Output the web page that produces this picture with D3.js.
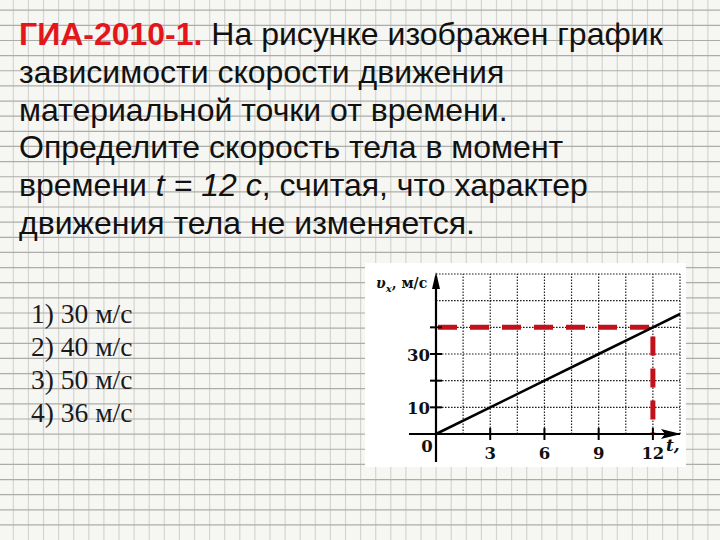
<!DOCTYPE html>
<html><head><meta charset="utf-8">
<script src="https://cdn.jsdelivr.net/npm/d3@7/dist/d3.min.js"></script>
<style>html,body{margin:0;padding:0;background:#f6f6f3;}svg{display:block;}</style>
</head><body>
<script>
// ---- data ----
const times = [0, 3, 6, 9, 12, 13.5];          // t, c
const speeds = [0, 10, 20, 30, 40, 45];        // v_x, м/с
const xTicks = [3, 6, 9, 12];
const yTickMarks = [10, 20, 30, 40];
const yTickLabels = [10, 30];
const gridT = [1.5, 3, 4.5, 6, 7.5, 9, 10.5, 12, 13.5];
const gridV = [10, 20, 30, 40, 50, 60];
const answerT = 12;
const answerV = 40;
const answers = ["1) 30 м/с", "2) 40 м/с", "3) 50 м/с", "4) 36 м/с"];
const questionLines = [
  [{t:"ГИА-2010-1.", red:true}, {t:" На рисунке изображен график"}],
  [{t:"зависимости скорости движения"}],
  [{t:"материальной точки от времени."}],
  [{t:"Определите скорость тела в момент"}],
  [{t:"времени "}, {t:"t = 12 с", it:true}, {t:", считая, что характер"}],
  [{t:"движения тела не изменяется."}]
];

const W = 720, H = 540;
const svg = d3.select("body").append("svg").attr("width", W).attr("height", H);

// grid paper background
svg.append("rect").attr("width", W).attr("height", H).attr("fill", "#f6f6f3");
const bg = svg.append("g");
bg.selectAll("line.v").data(d3.range(13.3, W, 15.1)).join("line")
  .attr("x1", d => d).attr("x2", d => d).attr("y1", 0).attr("y2", H)
  .attr("stroke", "#d4d4d1").attr("stroke-width", 1.2);
bg.selectAll("line.h").data(d3.range(10.2, H, 15.14)).join("line")
  .attr("y1", d => d).attr("y2", d => d).attr("x1", 0).attr("x2", W)
  .attr("stroke", "#acacaa").attr("stroke-width", 1.2);

// question text
const qg = svg.append("g").attr("font-family", "Liberation Sans, Arial, sans-serif").attr("font-size", 32);
questionLines.forEach((parts, i) => {
  const t = qg.append("text").attr("x", 19).attr("y", 45 + i * 37.8).attr("fill", "#111");
  parts.forEach(p => {
    const s = t.append("tspan").text(p.t);
    if (p.red) s.attr("fill", "#e3161c").attr("font-weight", "bold");
    if (p.it) s.attr("font-style", "italic");
  });
});

// answers
svg.append("g").selectAll("text").data(answers).join("text")
  .attr("x", 31).attr("y", (d, i) => 323 + i * 33)
  .attr("font-family", "Liberation Serif, 'Times New Roman', serif")
  .attr("font-size", 27.5).attr("fill", "#1a1a1a").text(d => d);

// chart panel
svg.append("rect").attr("x", 365).attr("y", 263).attr("width", 321).attr("height", 204).attr("fill", "#ffffff");

const x = d3.scaleLinear().domain([0, 13.5]).range([436, 680]);
const y = d3.scaleLinear().domain([0, 60]).range([434, 274]);
const g = svg.append("g");

// dotted grid
g.selectAll("line.gv").data(gridT).join("line")
  .attr("x1", d => x(d)).attr("x2", d => x(d)).attr("y1", y(0)).attr("y2", y(60))
  .attr("stroke", "#222").attr("stroke-width", 1.2).attr("stroke-dasharray", "1.6,1.4");
g.selectAll("line.gh").data(gridV).join("line")
  .attr("y1", d => y(d)).attr("y2", d => y(d)).attr("x1", x(0)).attr("x2", x(13.5))
  .attr("stroke", "#222").attr("stroke-width", 1.2).attr("stroke-dasharray", "1.6,1.4");

// red dashed helper lines
g.append("path")
  .attr("d", d3.line()([[x(0) + 2, y(answerV)], [x(answerT), y(answerV)], [x(answerT), y(0)]]))
  .attr("fill", "none").attr("stroke", "#c3111b").attr("stroke-width", 5)
  .attr("stroke-dasharray", "19,13");

// axes
g.append("line").attr("x1", 409).attr("x2", 680).attr("y1", y(0)).attr("y2", y(0))
  .attr("stroke", "#000").attr("stroke-width", 2.2);
g.append("line").attr("x1", x(0)).attr("x2", x(0)).attr("y1", 462).attr("y2", 276)
  .attr("stroke", "#000").attr("stroke-width", 2.2);
g.append("path").attr("d", `M${x(0)},272 L${x(0)-4},289 L${x(0)+4},289 Z`).attr("fill", "#000");
g.append("path").attr("d", `M681,${y(0)} L661,${y(0)-5} L665,${y(0)} L661,${y(0)+5} Z`).attr("fill", "#000");

// tick marks
g.selectAll("line.tx").data(xTicks).join("line")
  .attr("x1", d => x(d)).attr("x2", d => x(d)).attr("y1", y(0) - 6).attr("y2", y(0) + 6)
  .attr("stroke", "#000").attr("stroke-width", 2);
g.selectAll("line.ty").data(yTickMarks).join("line")
  .attr("y1", d => y(d)).attr("y2", d => y(d)).attr("x1", x(0) - 6).attr("x2", x(0) + 6)
  .attr("stroke", "#000").attr("stroke-width", 2);

// data line
g.append("path").datum(times.map((t, i) => [t, speeds[i]]))
  .attr("d", d3.line().x(d => x(d[0])).y(d => y(d[1])))
  .attr("fill", "none").attr("stroke", "#000").attr("stroke-width", 2.6);

// labels
const lf = "DejaVu Serif, serif";
g.selectAll("text.xl").data(xTicks).join("text")
  .attr("x", d => x(d)).attr("y", 459).attr("text-anchor", "middle")
  .attr("font-family", lf).attr("font-weight", "bold").attr("font-size", 16.5).attr("fill", "#111").text(d => d);
g.selectAll("text.yl").data(yTickLabels).join("text")
  .attr("x", 430).attr("y", d => y(d) + 6.5).attr("text-anchor", "end")
  .attr("font-family", lf).attr("font-weight", "bold").attr("font-size", 16.5).attr("fill", "#111").text(d => d);
g.append("text").attr("x", 427).attr("y", 451.5).attr("text-anchor", "middle")
  .attr("font-family", lf).attr("font-weight", "bold").attr("font-size", 16.5).attr("fill", "#111").text("0");
const al = g.append("text").attr("x", 376).attr("y", 288)
  .attr("font-family", lf).attr("font-weight", "bold").attr("font-size", 14).attr("fill", "#111");
al.append("tspan").attr("font-style", "italic").text("υ");
al.append("tspan").attr("font-style", "italic").attr("font-size", 10).attr("dy", 4).text("x");
al.append("tspan").attr("dy", -4).text(", м/с");
g.append("text").attr("x", 666).attr("y", 451)
  .attr("font-family", lf).attr("font-weight", "bold").attr("font-style", "italic").attr("font-size", 17).attr("fill", "#111").text("t,");
</script>
</body></html>
